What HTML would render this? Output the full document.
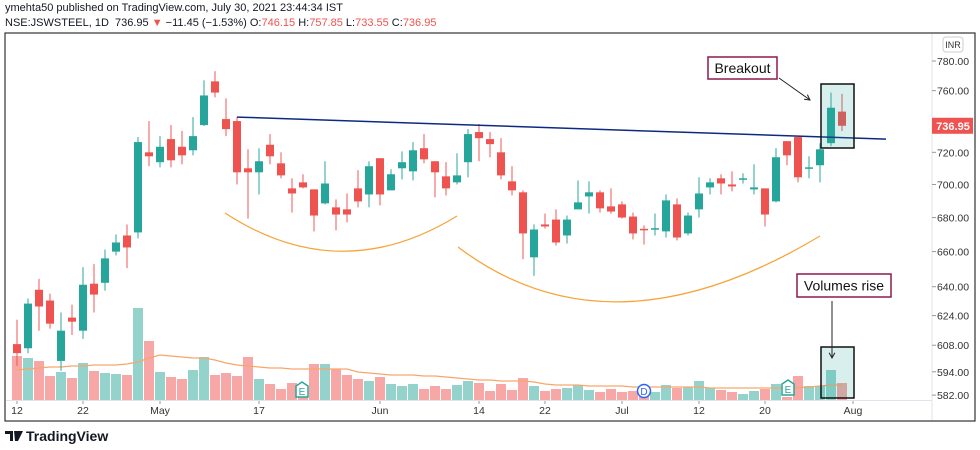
<!DOCTYPE html>
<html><head><meta charset="utf-8">
<style>
html,body{margin:0;padding:0;background:#fff;}
body{width:980px;height:450px;overflow:hidden;font-family:"Liberation Sans",sans-serif;position:relative;}
.hdr{position:absolute;left:5px;font-size:11px;color:#131722;white-space:nowrap;}
.r{color:#ef5350}
</style></head>
<body>
<div class="hdr" style="top:2px">ymehta50 published on TradingView.com, July 30, 2021 23:44:34 IST</div>
<div class="hdr" style="top:17px">NSE:JSWSTEEL, 1D&nbsp; 736.95 <span class="r">▼</span> −11.45 (−1.53%) O:<span class="r">746.15</span> H:<span class="r">757.85</span> L:<span class="r">733.55</span> C:<span class="r">736.95</span></div>
<svg id="chart" width="980" height="450" style="position:absolute;left:0;top:0" font-family="Liberation Sans, sans-serif"></svg>
<script>
// ---- data ----
const opens  = [608.6,606.4,638.3,632.3,599.7,622.9,615.8,641.7,642.2,660,669.4,671.2,720,713.8,728.4,723.5,721.3,737.4,766.2,741.3,740,710,707.5,724.8,713.1,697.6,701.3,697,688.5,686.1,684.9,697.6,693.9,716.3,696.4,710,708.1,722.6,714.4,705,701.3,713.8,732.9,728.4,720,701.9,695.2,656.7,675.9,678.8,669.4,684.9,692.7,695.2,686.7,687.9,680.6,673.3,673.1,671.8,687.9,670.6,684.9,698.2,703.8,700,703.4,697,697.6,689.7,727.1,729.7,710.3,711.9,725.8,746.15];
const highs  = [621.8,633.4,644.4,636.1,625.7,630,651.1,652.8,661.2,670,675.9,729.7,740,730.3,737.4,733.6,742.6,766.9,773.1,754.8,742.6,721.9,722.6,731.6,720,703.8,706.3,697,714.4,690.9,694.5,708.8,714.4,716.3,709.4,720.6,726.5,731.6,714.4,713.8,719.4,734.8,738.1,732.9,729,711.3,696.4,675.9,682.4,684.9,681.2,702.5,701.9,696.4,697.6,689.7,683,675.3,682.4,693.9,691.5,683,704.4,703.8,706.3,708.1,706.9,712.5,697.6,722.6,727.1,729.7,717.5,725.8,758.7,757.85];
const lows   = [597.1,603.8,615.8,616.9,594.5,613.5,611.4,625.7,637.8,657.8,650.5,667.7,711.3,710.6,710.6,712.5,718.1,736.8,755.5,730.3,700,679.4,693.9,712.5,703.8,683,697.6,671.8,687.9,672.4,677.1,686.1,686.1,687.3,696.4,703.1,702.5,713.1,692.1,693.3,700,704.4,714.4,716.9,703.1,693.3,655.6,646.1,673.5,663.5,664.7,684.9,682.4,683,682.4,679.4,667.1,664.1,669.4,668.2,666.5,669.4,680,693.9,693.9,695.8,700.6,693.9,674.7,689.1,711.9,701.3,703.8,701.3,723.9,733.55];
const closes = [603.8,630.6,629,619.6,615.8,620.7,641.1,635.6,656.1,665.3,662.4,726.5,717.5,723.5,715,718.1,730.3,756.8,758.7,734.8,707.5,707.5,714.4,717.5,705.6,694.5,698.2,681.2,700.6,681.8,681.8,689.7,711.3,693.9,706.3,713.8,721.3,715.6,707.5,697.6,705.6,731.6,729,725.2,705.6,696.4,670.6,672.9,674.7,665.3,678.8,689.1,695.2,685.5,683.6,680,670.6,672.7,673.7,690.3,668.2,681.2,694.5,701.3,700.6,698.8,703.8,698.2,681.8,716.9,718.1,704.4,710.6,721.9,748.7,736.95];
const volumes = [44,42,39,24,28,22,37,29,27,26,25,92,59,28,23,21,30,43,25,27,24,43,21,16,11,17,7,36,36,31,25,21,19,23,16,14,16,11,14,11,15,19,17,9,16,10,22,14,9,11,12,15,10,8,11,8,9,5,8,15,12,13,19,12,10,8,6,9,11,16,3,24,14,14,30,17];
const volMA = [30,31,32,33,33,34,34,35,35,35,36,38,42,45,44,43,42,42,40,37,35,34,33,32,32,31,31,31,31,31,31,28,27,26,25,25,25,24,24,23,22,21,20,20,19,19,19,18,16,15,15,15,14,14,14,14,13,13,13,13,13,13,13,12,12,12,12,12,12,12,12,12,13,14,15,15];
const priceTicks = [780,760,740,720,700,680,660,640,624,608,594,582];
const timeTickIdx = [0,6,13,22,33,42,48,55,62,68,76];
const timeTickLabels = ["12","22","May","17","Jun","14","22","Jul","12","20","Aug"];
const trendStart = {i:20, p:742.6};
const trendEnd = {i:79, p:728.4};

// ---- axes ----
const xOf = i => 17 + 11*i;
const yPrice = p => 61 + 1141*Math.log(780/p);
const volBase = 400, volScale = 1;
const yVol = v => volBase - v*volScale;

const NS = "http://www.w3.org/2000/svg";
const svg = document.getElementById('chart');
function mk(tag, attrs, parent){ const e=document.createElementNS(NS,tag); for(const k in attrs) e.setAttribute(k,attrs[k]); (parent||svg).appendChild(e); return e; }

const defs = mk('defs',{});
const cp = mk('clipPath',{id:'pane'},defs);
mk('rect',{x:6,y:34,width:926,height:366},cp);
const pane = mk('g',{'clip-path':'url(#pane)'});



const GREEN='#26a69a', RED='#ef5350';
// volumes
for(let i=0;i<volumes.length;i++){
  const up = closes[i]>=opens[i];
  const r = mk('rect',{x:xOf(i)-5,y:yVol(volumes[i]),width:10,height:volumes[i]*volScale,fill:up?'#93d3cc':'#f7a8a6'},pane);
  
  
}
// volume MA
let d='';
for(let i=0;i<volMA.length;i++){ d += (i?'L':'M')+xOf(i)+','+yVol(volMA[i]); }
const ma = mk('path',{d:d,fill:'none',stroke:'#f7a66b','stroke-width':1.2},pane);



// candles
for(let i=0;i<opens.length;i++){
  const up = closes[i]>=opens[i];
  const c = up?GREEN:RED;
  const g = mk('g',{},pane);
  
  
  mk('line',{x1:xOf(i),x2:xOf(i),y1:yPrice(highs[i]),y2:yPrice(lows[i]),stroke:c,'stroke-width':1.3,'stroke-opacity':0.75},g);
  const top = yPrice(Math.max(opens[i],closes[i])), bot = yPrice(Math.min(opens[i],closes[i]));
  mk('rect',{x:xOf(i)-4,y:top,width:8,height:Math.max(1.5,bot-top),fill:c},g);
}
// trendline
const tl = mk('line',{x1:xOf(trendStart.i),y1:yPrice(trendStart.p),x2:xOf(trendEnd.i),y2:yPrice(trendEnd.p),stroke:'#0d2a80','stroke-width':1.5},pane);


// arcs
const a1 = mk('path',{d:'M225,213 Q340,288 457,216',fill:'none',stroke:'#f7a53a','stroke-width':1.3},pane);


const a2 = mk('path',{d:'M458,247 Q610,362 820,236',fill:'none',stroke:'#f7a53a','stroke-width':1.3},pane);



// event markers
function eMarker(x,y,name){
  const g=mk('g',{},pane);
  
  
  mk('path',{d:`M${x},${y-9} L${x+6},${y-5} L${x+6},${y+6} L${x-6},${y+6} L${x-6},${y-5} Z`,fill:'#fff',stroke:GREEN,'stroke-width':1.5},g);
  const t=mk('text',{x:x,y:y+4,'font-size':10,'text-anchor':'middle',fill:GREEN},g); t.textContent='E';
}
eMarker(302,391,'earnings-marker-may');
eMarker(788,389,'earnings-marker-jul');
const dg = mk('g',{},pane);


mk('circle',{cx:644,cy:391,r:6.5,fill:'#fff',stroke:'#2962ff','stroke-width':1.5},dg);
const dt=mk('text',{x:644,y:395,'font-size':10,'text-anchor':'middle',fill:'#2962ff'},dg); dt.textContent='D';

// highlight boxes
const b1 = mk('rect',{x:821,y:84,width:33,height:64,fill:'rgba(38,166,154,0.18)',stroke:'#111','stroke-width':1.5});


const b2 = mk('rect',{x:821,y:347,width:33,height:51,fill:'rgba(38,166,154,0.18)',stroke:'#111','stroke-width':1.5});



// callouts
function callout(x,y,w,h,text,name){
  const g=mk('g',{});
  
  
  mk('rect',{x:x,y:y,width:w,height:h,fill:'#fff',stroke:'#8e1a4f','stroke-width':1.5},g);
  const t=mk('text',{x:x+w/2,y:y+h/2+5,'font-size':14,'text-anchor':'middle',fill:'#111'},g); t.textContent=text;
}
callout(708,57,69,22,'Breakout','breakout-label');
callout(797,274,94,23,'Volumes rise','volumes-rise-label');
function arrow(x1,y1,x2,y2,name){
  const g=mk('g',{});
  
  
  mk('line',{x1,y1,x2,y2,stroke:'#222','stroke-width':1},g);
  const ang=Math.atan2(y2-y1,x2-x1), L=6;
  const p1=[x2-L*Math.cos(ang-0.5),y2-L*Math.sin(ang-0.5)], p2=[x2-L*Math.cos(ang+0.5),y2-L*Math.sin(ang+0.5)];
  mk('path',{d:`M${p1} L${x2},${y2} L${p2}`,fill:'none',stroke:'#222','stroke-width':1},g);
}
arrow(779,78,810,100,'breakout-arrow');
arrow(832,301,832,358,'volume-arrow');

// frame & axes
const fr = mk('rect',{x:5,y:33,width:970,height:388,fill:'none',stroke:'#333','stroke-width':1.2});


mk('line',{x1:932,y1:34,x2:932,y2:420,stroke:'#e0e3eb','stroke-width':1});
mk('line',{x1:6,y1:400.5,x2:932,y2:400.5,stroke:'#e0e3eb','stroke-width':1});

const pax = mk('g',{});


priceTicks.forEach(p=>{
  const y=yPrice(p);
  mk('line',{x1:932,x2:936,y1:y,y2:y,stroke:'#999'},pax);
  const t=mk('text',{x:953,y:y+4,'font-size':10.5,'text-anchor':'middle',fill:'#333'},pax);
  t.textContent=p.toFixed(2);
});
const inr = mk('g',{});


mk('rect',{x:943,y:37,width:20,height:15,rx:3,fill:'#fff',stroke:'#ccc'},inr);
const it=mk('text',{x:953,y:48,'font-size':9,'text-anchor':'middle',fill:'#333'},inr); it.textContent='INR';

const lp = mk('g',{});


const lastY = yPrice(closes[closes.length-1]);
mk('rect',{x:932,y:lastY-8,width:41,height:16,fill:RED},lp);
const lt=mk('text',{x:953,y:lastY+4,'font-size':11,'font-weight':'bold','text-anchor':'middle',fill:'#fff'},lp);
lt.textContent=closes[closes.length-1].toFixed(2);

const tax = mk('g',{});


timeTickIdx.forEach((idx,k)=>{
  const x=xOf(idx);
  mk('line',{x1:x,x2:x,y1:401,y2:404,stroke:'#999'},tax);
  const t=mk('text',{x:x,y:414,'font-size':10.5,'text-anchor':'middle',fill:'#333'},tax);
  t.textContent=timeTickLabels[k];
});

// logo
const lg = mk('g',{});


mk('path',{d:'M5,431 h8 v10 h-3 v-7 h-5 z M14,431 h9 l-5,10 h-3 z',fill:'#131722'},lg);
const lgt=mk('text',{x:26,y:441,'font-size':14,'font-weight':'bold',fill:'#131722'},lg); lgt.textContent='TradingView';
</script>
</body></html>
